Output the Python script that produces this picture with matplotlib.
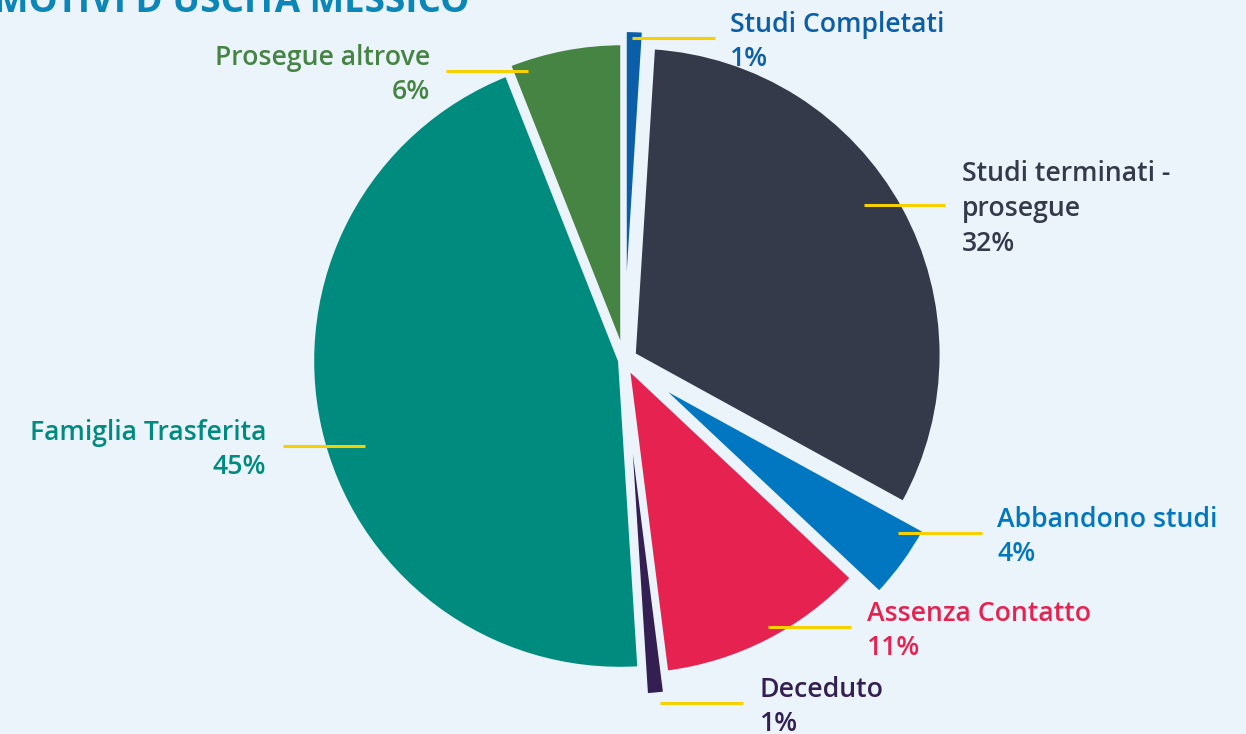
import matplotlib
matplotlib.use("Agg")
import matplotlib.pyplot as plt

# data
categories = ["Studi Completati", "Studi terminati -\nprosegue", "Abbandono studi",
              "Assenza Contatto", "Deceduto", "Famiglia Trasferita", "Prosegue altrove"]
percent = [1, 32, 4, 11, 1, 45, 6]

colors = ["#0b5ea8", "#343a4a", "#0077c0", "#e62350", "#331f52", "#008b7f", "#468444"]
explode_px = [22, 11, 38, 8, 28, 4, 9]

BG = "#ebf3fb"
LEADER = "#f7d000"
W, H = 1246, 734

# label layout in pixel coords (x from left, y from top)
# (line x0, line x1, line y, text x, alignment)
label_pos = [
    (632, 715, 38, 730, "left"),
    (864, 945, 205, 962, "left"),
    (898, 982, 533, 997, "left"),
    (768, 851, 627, 867, "left"),
    (660, 743, 703, 760, "left"),
    (283, 365, 446, 266, "right"),
    (446, 528, 71, 430, "right"),
]
TEXT_DY = 4  # text block sits slightly below its leader line


def main():
    plt.rcParams['font.family'] = ['Open Sans', 'DejaVu Sans']
    fig = plt.figure(figsize=(W / 100, H / 100), dpi=100, facecolor=BG)
    ax = fig.add_axes([0, 0, 1, 1])
    ax.set_facecolor(BG)

    ax.pie(percent, colors=colors, startangle=90, counterclock=False,
           explode=explode_px, radius=308, center=(624, H - 360),
           wedgeprops=dict(edgecolor=BG, linewidth=3))

    for (x0, x1, y, tx, ha), name, p, c in zip(label_pos, categories, percent, colors):
        ax.plot([x0, x1], [H - y, H - y], color=LEADER, lw=2.2, solid_capstyle="butt")
        ax.text(tx, H - y - TEXT_DY, f"{name}\n{p}%", ha=ha, va="center", color=c,
                fontsize=19.2, fontweight="semibold", linespacing=1.33, multialignment=ha)

    # title is cropped at the top edge, as in the source image
    ax.text(-6, H - 12, "MOTIVI D'USCITA MESSICO", ha="left", va="baseline",
            color="#0a86b8", fontsize=26.5, fontweight="bold")

    ax.set_xlim(0, W)
    ax.set_ylim(0, H)
    ax.set_aspect("equal")
    ax.axis("off")
    fig.savefig("out.png", dpi=100, facecolor=BG)


if __name__ == "__main__":
    main()
